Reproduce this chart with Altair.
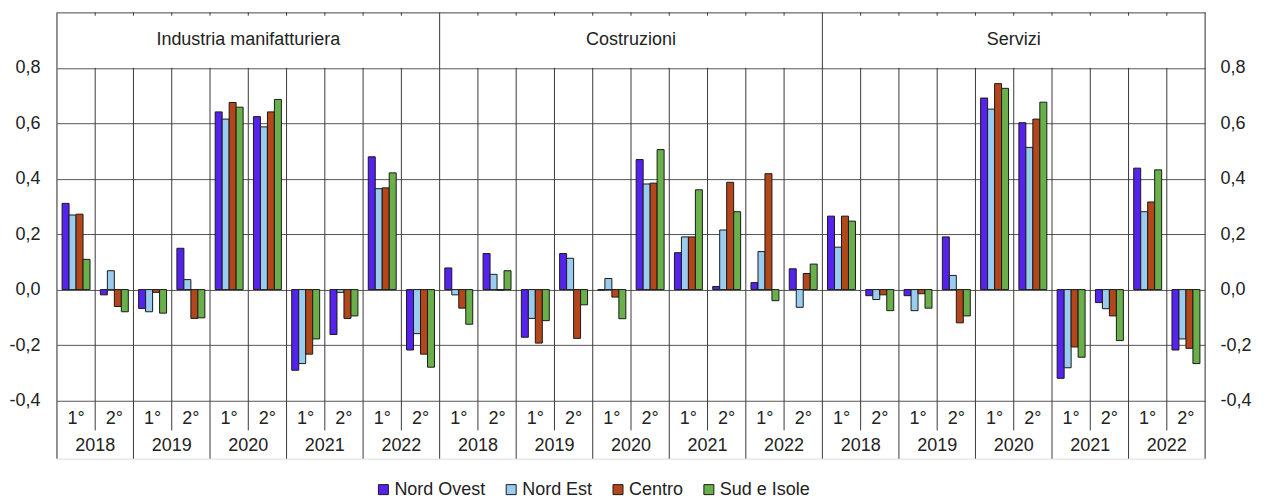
import altair as alt
import pandas as pd

# ---------------- data ----------------
sectors = ["Industria manifatturiera", "Costruzioni", "Servizi"]
years = ["2018", "2019", "2020", "2021", "2022"]
halves = ["1°", "2°"]
regions = ["Nord Ovest", "Nord Est", "Centro", "Sud e Isole"]
colors = ["#5522EE", "#99CCEE", "#B4461C", "#6AB04A"]

# values in order 2018-1°, 2018-2°, 2019-1°, ... 2022-2°
ind_nord_ovest = [0.311, -0.019, -0.068, 0.149, 0.641, 0.624, -0.291, -0.162, 0.479, -0.218]
ind_nord_est = [0.269, 0.068, -0.080, 0.036, 0.615, 0.587, -0.267, -0.010, 0.364, -0.159]
ind_centro = [0.272, -0.061, -0.010, -0.104, 0.675, 0.641, -0.233, -0.104, 0.367, -0.233]
ind_sud = [0.109, -0.080, -0.085, -0.102, 0.658, 0.686, -0.178, -0.095, 0.421, -0.280]

cos_nord_ovest = [0.078, 0.130, -0.172, 0.130, -0.002, 0.469, 0.133, 0.011, 0.025, 0.075]
cos_nord_est = [-0.019, 0.055, -0.104, 0.113, 0.040, 0.381, 0.190, 0.215, 0.137, -0.064]
cos_centro = [-0.067, -0.002, -0.193, -0.176, -0.027, 0.384, 0.190, 0.387, 0.418, 0.058]
cos_sud = [-0.125, 0.068, -0.112, -0.055, -0.105, 0.505, 0.360, 0.281, -0.040, 0.092]

ser_nord_ovest = [0.265, -0.022, -0.022, 0.190, 0.691, 0.602, -0.320, -0.047, 0.438, -0.218]
ser_nord_est = [0.153, -0.036, -0.076, 0.051, 0.651, 0.513, -0.282, -0.069, 0.281, -0.178]
ser_centro = [0.265, -0.019, -0.015, -0.120, 0.743, 0.615, -0.207, -0.095, 0.316, -0.212]
ser_sud = [0.247, -0.076, -0.067, -0.095, 0.726, 0.676, -0.244, -0.184, 0.432, -0.267]

series = {
    "Industria manifatturiera": [ind_nord_ovest, ind_nord_est, ind_centro, ind_sud],
    "Costruzioni": [cos_nord_ovest, cos_nord_est, cos_centro, cos_sud],
    "Servizi": [ser_nord_ovest, ser_nord_est, ser_centro, ser_sud],
}

tick_values = [-0.4, -0.2, 0.0, 0.2, 0.4, 0.6, 0.8, 1.0]

# ---------------- layout constants ----------------
FONT = "Liberation Sans"
FS = 18
TXT = "#222222"
LINE = "#3a3a3a"
Y_TOP, Y_HEAD, Y_BOT_PLOT, Y_HALF_END, Y_BOTTOM = 1.0, 0.8, -0.4, -0.508, -0.61
Y_TITLE, Y_HALF_TXT, Y_YEAR_TXT = 0.9, -0.467, -0.566

# ---------------- tables ----------------
keys, key_rows, bar_rows, rule_rows = [], [], [], []
for s in sectors:
    for yi, yr in enumerate(years):
        for hi, h in enumerate(halves):
            k = f"{s}|{yr}|{h}"
            idx = yi * 2 + hi
            keys.append(k)
            key_rows.append({"key": k, "sector": s, "year": yr, "half": h,
                             "ty_half": Y_HALF_TXT, "ty_year": Y_YEAR_TXT, "ty_title": Y_TITLE})
            for r, vals in zip(regions, series[s]):
                bar_rows.append({"key": k, "region": r, "value": vals[idx]})
            if idx == 0:
                rule_rows.append({"key": k, "y1": Y_BOTTOM, "y2": Y_TOP})
            elif hi == 0:
                rule_rows.append({"key": k, "y1": Y_BOTTOM, "y2": Y_HEAD})
                rule_rows.append({"key": k, "y1": Y_TOP - 0.012, "y2": Y_TOP})
            else:
                rule_rows.append({"key": k, "y1": Y_HALF_END, "y2": Y_HEAD})
                rule_rows.append({"key": k, "y1": Y_TOP - 0.012, "y2": Y_TOP})

bars_df = pd.DataFrame(bar_rows)
keys_df = pd.DataFrame(key_rows)
rules_df = pd.DataFrame(rule_rows)
right_df = pd.DataFrame([{"key": keys[-1], "y1": Y_BOTTOM, "y2": Y_TOP}])
years_df = keys_df[keys_df["half"] == "1°"]
titles_df = keys_df[(keys_df["half"] == "1°") & (keys_df["year"] == "2020")]

# ---------------- scales ----------------
x_scale = alt.Scale(domain=keys, paddingInner=0, paddingOuter=0)
y_scale = alt.Scale(domain=[Y_BOTTOM, Y_TOP], nice=False, zero=False)

label_expr = ("datum.value > 0.9 ? '' : (datum.value < -0.001 ? '-' : '') + "
              "replace(format(abs(datum.value), '.1f'), '.', ',')")


def xk(band=0.5):
    return alt.X("key:N", scale=x_scale, sort=keys, axis=None, bandPosition=band)


bars = alt.Chart(bars_df).mark_bar(stroke="#1a1a1a", strokeWidth=1).encode(
    x=xk(),
    xOffset=alt.XOffset("region:N", sort=regions,
                        scale=alt.Scale(domain=regions, paddingInner=0, paddingOuter=0.74)),
    y=alt.Y("value:Q", scale=y_scale,
            axis=alt.Axis(orient="left", values=tick_values, labelExpr=label_expr,
                          grid=True, gridColor="#555555", gridWidth=1, domain=False,
                          ticks=False, labelPadding=17, minExtent=49, maxExtent=49,
                          title=None, labelFontSize=FS, labelFont=FONT, labelColor=TXT)),
    y2=alt.datum(0),
    color=alt.Color("region:N", sort=regions,
                    scale=alt.Scale(domain=regions, range=colors),
                    legend=alt.Legend(title=None, orient="none", legendX=318, legendY=469,
                                      direction="horizontal", symbolType="square",
                                      symbolSize=100, symbolStrokeColor="#1a1a1a",
                                      symbolStrokeWidth=1, symbolOpacity=1,
                                      labelFontSize=FS, labelFont=FONT, labelColor=TXT,
                                      labelOffset=2, columnPadding=16, padding=0)),
)

right_axis = alt.Chart(bars_df).mark_point(opacity=0).encode(
    y=alt.Y("value:Q", scale=y_scale,
            axis=alt.Axis(orient="right", values=tick_values, labelExpr=label_expr,
                          grid=False, domain=False, ticks=False, labelPadding=15,
                          title=None, labelFontSize=FS, labelFont=FONT, labelColor=TXT)),
)

rules = alt.Chart(rules_df).mark_rule(color=LINE, strokeWidth=1).encode(
    x=xk(0), y=alt.Y("y1:Q", scale=y_scale, axis=None), y2="y2:Q")

right_rule = alt.Chart(right_df).mark_rule(color=LINE, strokeWidth=1).encode(
    x=xk(1), y=alt.Y("y1:Q", scale=y_scale, axis=None), y2="y2:Q")

half_txt = alt.Chart(keys_df).mark_text(font=FONT, fontSize=FS, color=TXT, baseline="middle").encode(
    x=xk(0.5), y=alt.Y("ty_half:Q", scale=y_scale, axis=None), text="half:N")

year_txt = alt.Chart(years_df).mark_text(font=FONT, fontSize=FS, color=TXT, baseline="middle").encode(
    x=xk(1), y=alt.Y("ty_year:Q", scale=y_scale, axis=None), text="year:N")

title_txt = alt.Chart(titles_df).mark_text(font=FONT, fontSize=FS, color=TXT, baseline="middle").encode(
    x=xk(1), y=alt.Y("ty_title:Q", scale=y_scale, axis=None), text="sector:N")

chart = alt.layer(bars, right_axis, rules, right_rule, half_txt, year_txt, title_txt).resolve_axis(
    y="independent"
).properties(
    width=1150, height=447,
    padding={"left": 0, "top": 3, "right": 5, "bottom": 0},
).configure_view(stroke=None).configure(background="white")

chart.save("out.html", embed_options={"renderer": "svg", "actions": False})
